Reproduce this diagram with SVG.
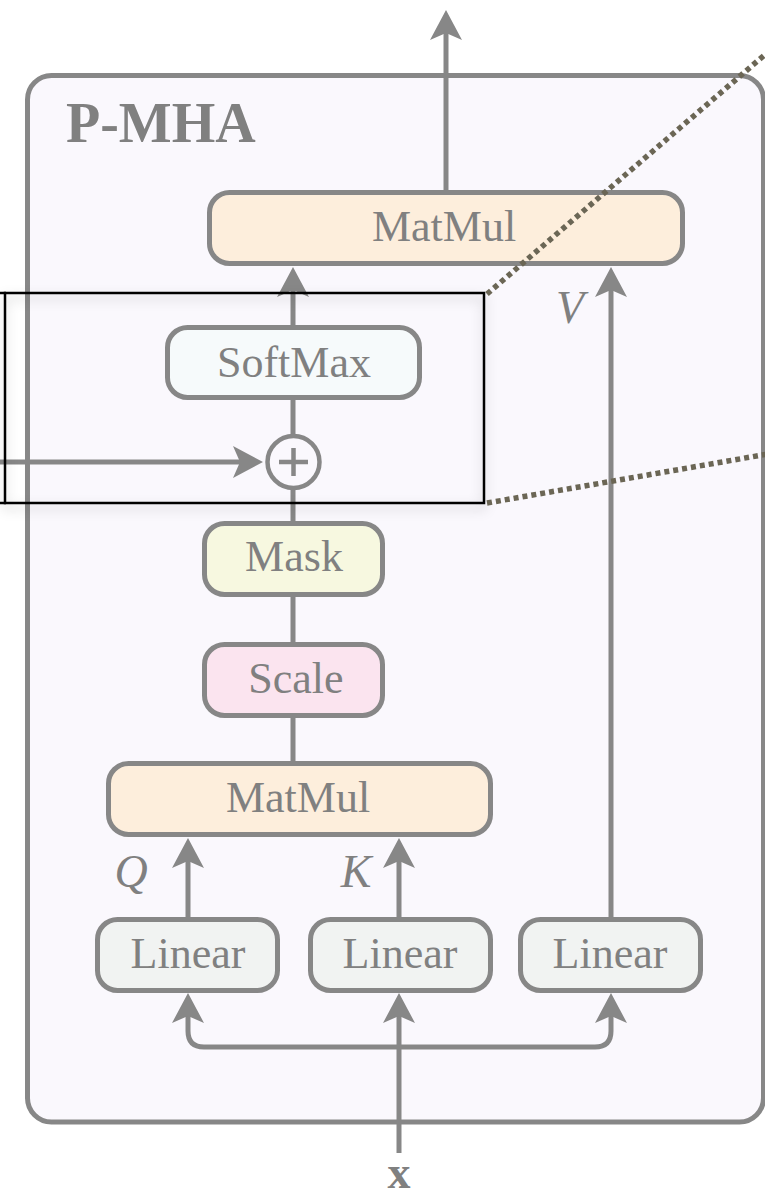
<svg xmlns="http://www.w3.org/2000/svg" width="765" height="1200" viewBox="0 0 765 1200">
  <defs>
    <marker id="arr" viewBox="-24 -17 34 34" refX="0" refY="0" markerWidth="34" markerHeight="34" markerUnits="userSpaceOnUse" orient="auto">
      <path d="M8,0 L-22,-16 L-15,0 L-22,16 Z" fill="#878787"/>
    </marker>
    <filter id="shadow" x="-10%" y="-20%" width="120%" height="140%">
      <feDropShadow dx="0" dy="5" stdDeviation="6" flood-color="#000" flood-opacity="0.22"/>
    </filter>
  </defs>
  <style>
    .box { stroke: #878787; stroke-width: 5; }
    .lbl { font-family: "Liberation Serif", "Times New Roman", serif; font-size: 44px; fill: #808080; text-anchor: middle; }
    .it { font-family: "Liberation Serif", "Times New Roman", serif; font-size: 46px; font-style: italic; fill: #808080; text-anchor: middle; }
    .conn { stroke: #878787; stroke-width: 5; fill: none; }
    .dots { stroke: #6b6655; stroke-width: 5.5; stroke-dasharray: 5 4; fill: none; }
  </style>

  <g id="container">
    <rect x="27.5" y="75.5" width="736" height="1046.5" rx="24" fill="#faf8fd" stroke="#878787" stroke-width="5"/>
    <text x="66" y="142" font-family="Liberation Serif, Times New Roman, serif" font-size="56" font-weight="bold" fill="#808080">P-MHA</text>
  </g>

  <g id="connectors">
    <line class="conn" x1="446" y1="192" x2="446" y2="18" marker-end="url(#arr)"/>
    <line class="conn" x1="293" y1="327" x2="293" y2="275" marker-end="url(#arr)"/>
    <line class="conn" x1="611" y1="919" x2="611" y2="275" marker-end="url(#arr)"/>
    <line class="conn" x1="-5" y1="462" x2="255" y2="462" marker-end="url(#arr)"/>
    <line class="conn" x1="293" y1="398" x2="293" y2="436"/>
    <line class="conn" x1="293" y1="488" x2="293" y2="523"/>
    <line class="conn" x1="293" y1="595" x2="293" y2="644"/>
    <line class="conn" x1="293" y1="716" x2="293" y2="763"/>
    <line class="conn" x1="188" y1="919" x2="188" y2="846" marker-end="url(#arr)"/>
    <line class="conn" x1="399" y1="919" x2="399" y2="846" marker-end="url(#arr)"/>
    <line class="conn" x1="399" y1="1153" x2="399" y2="1001" marker-end="url(#arr)"/>
    <path class="conn" d="M399,1047 H204 Q188,1047 188,1031 V1001" marker-end="url(#arr)"/>
    <path class="conn" d="M399,1047 H595 Q611,1047 611,1031 V1001" marker-end="url(#arr)"/>
  </g>

  <g id="matmul-top">
    <rect class="box" x="209.5" y="192.5" width="473" height="71" rx="20" fill="#fdeedc"/>
    <text class="lbl" x="444" y="241">MatMul</text>
  </g>
  <g id="softmax">
    <rect class="box" x="167.5" y="327.5" width="252" height="70" rx="20" fill="#f6fafb"/>
    <text class="lbl" x="294" y="377">SoftMax</text>
  </g>
  <g id="add">
    <circle cx="293.5" cy="462" r="26" fill="#faf8fd" stroke="#878787" stroke-width="4.5"/>
    <path d="M279,462 H308 M293.5,448 V476" stroke="#878787" stroke-width="4.5"/>
  </g>
  <g id="mask">
    <rect class="box" x="204.5" y="523.5" width="178" height="71" rx="20" fill="#f7f8e0"/>
    <text class="lbl" x="294" y="571">Mask</text>
  </g>
  <g id="scale">
    <rect class="box" x="204.5" y="644.5" width="178" height="71" rx="20" fill="#fbe4ef"/>
    <text class="lbl" x="296" y="693">Scale</text>
  </g>
  <g id="matmul-bottom">
    <rect class="box" x="108.5" y="763.5" width="382" height="71" rx="20" fill="#fdeedc"/>
    <text class="lbl" x="298" y="812">MatMul</text>
  </g>
  <g id="linear-q">
    <rect class="box" x="97.5" y="919.5" width="180" height="71" rx="20" fill="#f1f3f2"/>
    <text class="lbl" x="188" y="968">Linear</text>
  </g>
  <g id="linear-k">
    <rect class="box" x="310.5" y="919.5" width="180" height="71" rx="20" fill="#f1f3f2"/>
    <text class="lbl" x="400" y="968">Linear</text>
  </g>
  <g id="linear-v">
    <rect class="box" x="520.5" y="919.5" width="180" height="71" rx="20" fill="#f1f3f2"/>
    <text class="lbl" x="610" y="968">Linear</text>
  </g>

  <g id="labels">
    <text class="it" x="570" y="323">V</text>
    <text class="it" x="131" y="887">Q</text>
    <text class="it" x="356" y="887">K</text>
    <text x="399" y="1188" font-family="Liberation Serif, Times New Roman, serif" font-size="46" font-weight="bold" fill="#808080" text-anchor="middle">x</text>
  </g>

  <g id="zoom-frame">
    <rect x="5" y="293" width="479" height="210" fill="none" stroke="#000" stroke-width="2.5" filter="url(#shadow)"/>
    <line x1="-2" y1="293" x2="6" y2="293" stroke="#000" stroke-width="2.5"/>
    <line x1="-2" y1="503" x2="6" y2="503" stroke="#000" stroke-width="2.5"/>
    <line class="dots" x1="487" y1="294" x2="768" y2="52"/>
    <line class="dots" x1="487" y1="503" x2="768" y2="454"/>
  </g>
</svg>
